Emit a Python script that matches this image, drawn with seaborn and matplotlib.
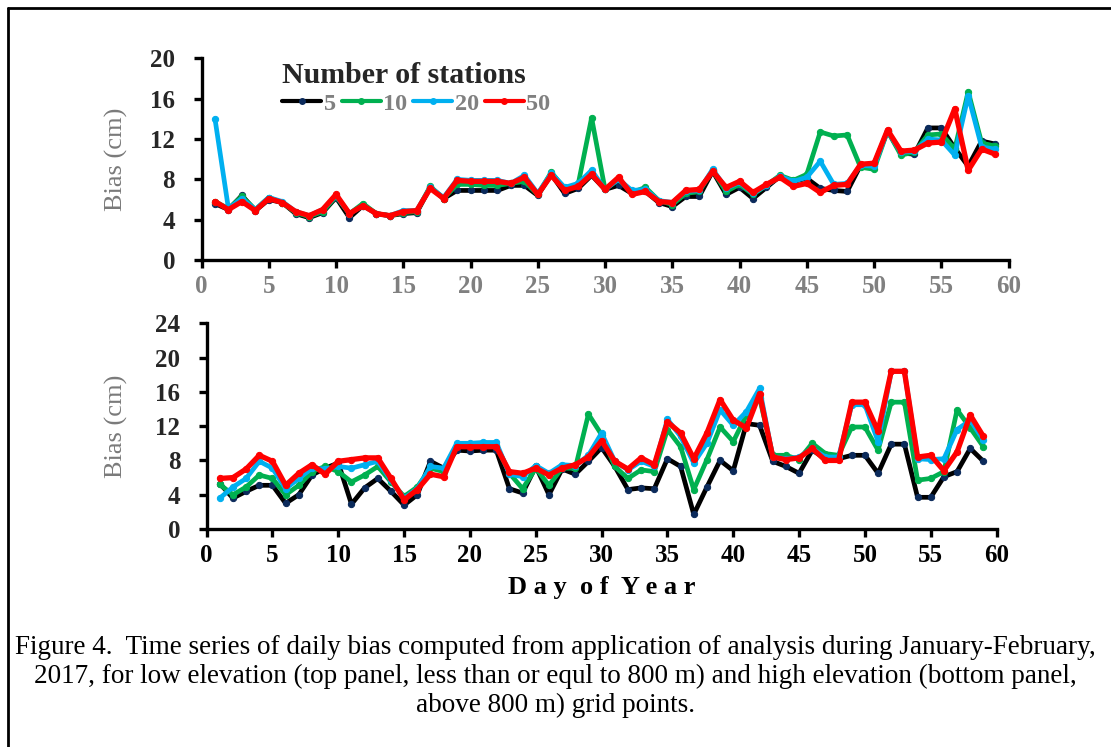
import numpy as np
import pandas as pd
import matplotlib
matplotlib.use("Agg")
import matplotlib.pyplot as plt
from matplotlib.lines import Line2D
import seaborn as sns

days = list(range(1, 60))

# Top panel (low elevation)
top_5 = [5.6, 5.0, 6.4, 4.9, 6.0, 5.7, 4.6, 4.2, 4.7, 6.2, 4.2, 5.4, 4.6, 4.4, 4.6, 4.7, 7.2, 6.1, 6.9, 6.9,
         6.9, 6.9, 7.4, 7.4, 6.4, 8.5, 6.6, 7.1, 8.4, 7.0, 7.4, 6.6, 6.8, 5.7, 5.3, 6.3, 6.3, 8.8, 6.5, 7.2,
         6.1, 7.2, 8.3, 7.8, 8.1, 7.1, 6.9, 6.8, 9.4, 9.5, 12.8, 10.6, 10.5, 13.1, 13.1, 11.1, 9.3, 11.8, 11.5]
top_10 = [5.8, 5.1, 6.3, 5.0, 6.2, 5.7, 4.7, 4.3, 4.8, 6.3, 4.6, 5.6, 4.6, 4.4, 4.7, 4.8, 7.3, 6.1, 7.5, 7.5,
          7.4, 7.4, 7.6, 7.8, 6.5, 8.7, 7.1, 7.5, 14.1, 7.0, 8.0, 6.7, 7.2, 5.9, 5.5, 6.6, 6.8, 8.9, 6.8, 7.5,
          6.5, 7.4, 8.4, 7.9, 8.5, 12.7, 12.3, 12.4, 9.2, 9.0, 12.8, 10.4, 10.7, 12.4, 12.5, 11.0, 16.7, 11.6, 11.3]
top_20 = [14.0, 5.1, 6.1, 5.0, 6.2, 5.8, 4.8, 4.4, 5.0, 6.4, 4.6, 5.4, 4.6, 4.4, 4.9, 4.9, 7.2, 6.2, 8.0, 7.9,
          7.9, 7.9, 7.6, 8.4, 6.6, 8.6, 7.2, 7.6, 8.9, 7.0, 8.0, 6.9, 7.0, 5.9, 5.7, 6.8, 6.9, 9.0, 7.1, 7.7,
          6.6, 7.4, 8.3, 7.8, 8.2, 9.8, 7.5, 7.6, 9.4, 9.3, 12.8, 10.7, 10.8, 12.0, 11.9, 10.4, 16.3, 11.2, 11.0]
top_50 = [5.8, 5.0, 5.8, 4.9, 6.1, 5.7, 4.8, 4.4, 5.0, 6.5, 4.6, 5.4, 4.6, 4.4, 4.8, 4.9, 7.1, 6.1, 7.9, 7.8,
          7.8, 7.8, 7.6, 8.2, 6.5, 8.4, 6.9, 7.3, 8.5, 7.0, 8.2, 6.5, 6.8, 5.8, 5.7, 6.9, 7.0, 8.8, 7.2, 7.8,
          6.7, 7.5, 8.2, 7.3, 7.6, 6.7, 7.4, 7.5, 9.5, 9.6, 12.9, 10.8, 10.9, 11.6, 11.7, 15.0, 8.9, 11.0, 10.5]

# Bottom panel (high elevation)
bot_5 = [5.3, 3.6, 4.4, 5.1, 5.1, 3.0, 4.0, 6.3, 7.1, 7.7, 2.9, 4.8, 5.9, 4.4, 2.8, 4.0, 7.9, 7.1, 9.2, 9.1,
         9.2, 9.2, 4.7, 4.2, 7.3, 4.0, 7.0, 6.4, 7.9, 9.5, 7.3, 4.6, 4.8, 4.7, 8.2, 7.3, 1.7, 4.9, 8.0, 6.8,
         12.3, 12.1, 7.9, 7.3, 6.5, 9.2, 8.2, 8.2, 8.6, 8.6, 6.5, 9.9, 9.9, 3.7, 3.7, 6.1, 6.7, 9.4, 7.9]
bot_10 = [5.2, 4.0, 4.9, 6.3, 5.9, 4.0, 5.1, 6.7, 7.3, 6.7, 5.5, 6.3, 7.3, 5.5, 3.8, 4.9, 7.1, 6.7, 9.8, 9.8,
          9.8, 9.8, 6.5, 4.7, 7.1, 5.1, 7.1, 7.1, 13.4, 11.0, 7.3, 5.9, 6.9, 6.7, 11.6, 9.6, 4.6, 8.1, 11.9, 10.2,
          13.3, 15.3, 8.6, 8.6, 8.1, 10.0, 8.8, 8.6, 11.9, 11.9, 9.2, 14.8, 14.8, 5.7, 5.9, 6.7, 13.9, 11.8, 9.6]
bot_20 = [3.6, 4.9, 5.9, 7.9, 7.1, 4.7, 5.9, 7.1, 7.0, 7.3, 7.1, 7.5, 7.9, 5.7, 3.6, 4.7, 7.3, 7.1, 10.0, 10.0,
          10.1, 10.1, 6.4, 6.1, 7.4, 6.5, 7.5, 7.4, 8.6, 11.2, 7.9, 6.9, 7.9, 7.3, 12.8, 10.8, 7.7, 10.0, 13.9, 12.1,
          13.7, 16.4, 8.4, 8.2, 8.4, 9.4, 8.4, 8.4, 14.5, 14.5, 10.2, 18.4, 18.4, 8.2, 8.1, 8.2, 11.6, 12.7, 10.4]
bot_50 = [5.9, 6.0, 7.0, 8.6, 7.9, 5.1, 6.5, 7.5, 6.4, 7.9, 8.1, 8.3, 8.3, 5.9, 3.4, 4.6, 6.4, 6.1, 9.6, 9.6,
          9.6, 9.6, 6.7, 6.5, 7.1, 6.3, 7.1, 7.5, 8.4, 10.3, 7.9, 7.0, 8.3, 7.5, 12.5, 11.2, 8.2, 11.2, 15.1, 12.7,
          11.8, 15.8, 8.4, 8.1, 8.3, 9.4, 8.0, 8.0, 14.8, 14.8, 11.4, 18.4, 18.4, 8.4, 8.6, 6.8, 9.0, 13.3, 10.8]

station_labels = ["5", "10", "20", "50"]
line_colors = ["#000000", "#00B050", "#00B0F0", "#FF0000"]
marker_colors = ["#0B2A5B", "#00B050", "#00B0F0", "#FF0000"]

caption = ("Figure 4.  Time series of daily bias computed from application of analysis during January-February,\n"
           "2017, for low elevation (top panel, less than or equl to 800 m) and high elevation (bottom panel,\n"
           "above 800 m) grid points.")

def long_df(series):
    frames = []
    for lab, vals in zip(station_labels, series):
        frames.append(pd.DataFrame({"day": days, "bias": vals, "n": lab}))
    return pd.concat(frames, ignore_index=True)

df_top = long_df([top_5, top_10, top_20, top_50])
df_bot = long_df([bot_5, bot_10, bot_20, bot_50])

sns.set_theme(style="ticks")
plt.rcParams["font.family"] = ["Liberation Serif", "DejaVu Serif"]

fig = plt.figure(figsize=(11.11, 7.47), dpi=100)
ax1 = fig.add_axes([0.1814, 0.6519, 0.7264, 0.2700])
ax2 = fig.add_axes([0.1860, 0.2918, 0.7110, 0.2754])

def draw(ax, df, ymax, xtick_color):
    for i, lab in enumerate(station_labels):
        sub = df[df["n"] == lab]
        sns.lineplot(data=sub, x="day", y="bias", ax=ax, color=line_colors[i],
                     linewidth=3.4 if i < 3 else 3.8, marker="o", markersize=4.5,
                     markerfacecolor=marker_colors[i], markeredgecolor=marker_colors[i],
                     label=lab, legend=False)
    ax.set_xlim(0, 60)
    ax.set_ylim(0, ymax)
    ax.set_xticks(range(0, 61, 5))
    ax.set_yticks(range(0, ymax + 1, 4))
    for s in ["top", "right"]:
        ax.spines[s].set_visible(False)
    for s in ["left", "bottom"]:
        ax.spines[s].set_linewidth(2.4)
        ax.spines[s].set_color("black")
    ax.tick_params(axis="both", length=6, width=2.4, color="black", direction="out")
    ax.tick_params(axis="y", labelsize=18, pad=13)
    ax.tick_params(axis="x", labelsize=18, pad=5, labelcolor=xtick_color)
    for t in ax.get_yticklabels() + ax.get_xticklabels():
        t.set_fontweight("bold")
    ax.set_ylabel("Bias (cm)", fontsize=19, color="#7a7a7a")
    ax.set_xlabel("")

draw(ax1, df_top, 20, "#808080")
draw(ax2, df_bot, 24, "black")
ax1.yaxis.set_label_coords(-0.091, 0.5)
ax2.yaxis.set_label_coords(-0.1, 0.5)

ax2.set_xlabel("D a y  o f  Y e a r", fontsize=19, fontweight="bold", color="black", labelpad=6)

handles = [Line2D([0], [0], color=line_colors[i], lw=3, marker="o", markersize=4,
                  markerfacecolor=marker_colors[i], markeredgecolor=marker_colors[i])
           for i in range(4)]
leg = ax1.legend(handles, station_labels, title="Number of stations", ncol=4, frameon=False,
                 loc="upper left", bbox_to_anchor=(0.088, 1.03), handlelength=1.6,
                 handletextpad=0.1, columnspacing=0.25, borderaxespad=0, labelspacing=0.15,
                 prop={"weight": "bold", "size": 17.5},
                 title_fontproperties={"weight": "bold", "size": 21.5})
for t in leg.get_texts():
    t.set_color("#808080")
leg._legend_box.align = "left"

fig.text(0.5, 0.095, caption, ha="center", va="center", fontsize=19.5,
         linespacing=1.2, color="black")

# outer frame (left and top edges)
fig.add_artist(Line2D([0.0068, 0.0068], [0.0, 0.989], transform=fig.transFigure, color="black", lw=2))
fig.add_artist(Line2D([0.0068, 1.0], [0.989, 0.989], transform=fig.transFigure, color="black", lw=2))

fig.savefig("out.png", dpi=100)
